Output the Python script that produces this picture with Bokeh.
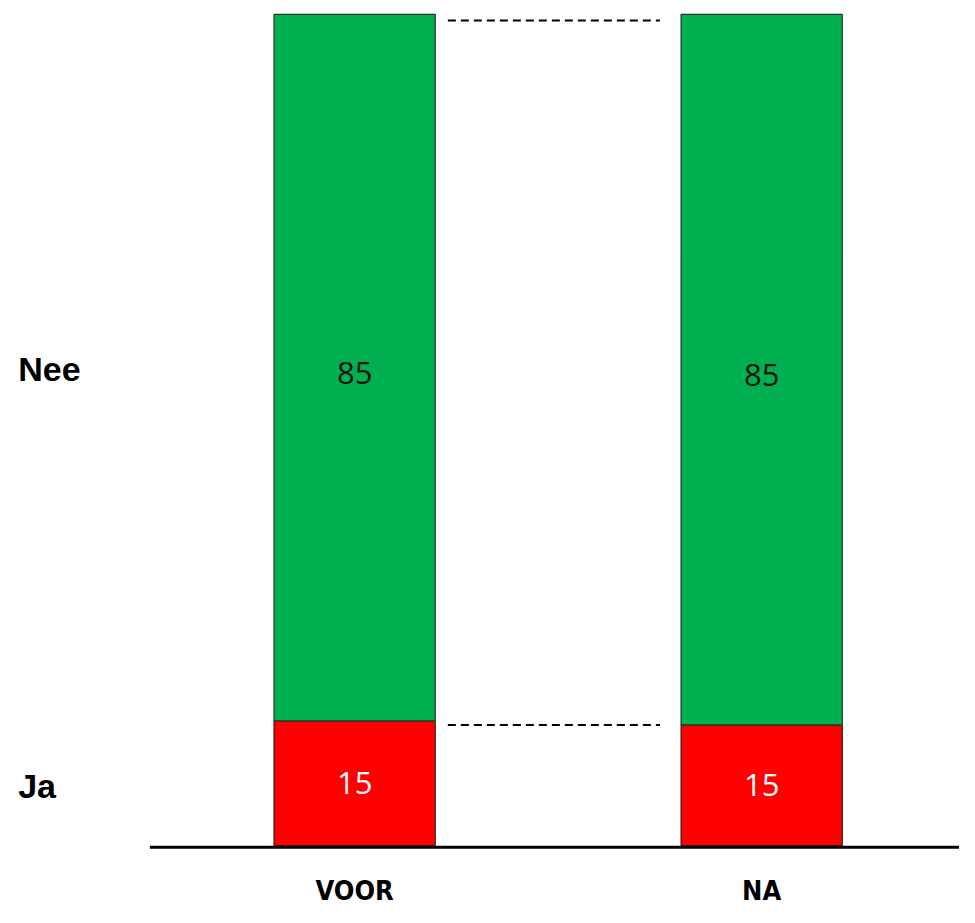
from bokeh.plotting import figure
from bokeh.models import Range1d, ColumnDataSource
from bokeh.core.properties import value
from bokeh.embed import file_html
from bokeh.resources import INLINE

# data
periods = ["VOOR", "NA"]
ja = [15.0, 14.5]
nee = [85.0, 85.5]
ja_labels = ["15", "15"]
nee_labels = ["85", "85"]
answers = ["Ja", "Nee"]

xs = list(range(len(periods)))
bar_w = 0.396

p = figure(width=959, height=907, output_backend="svg", toolbar_location=None,
           x_range=Range1d(-0.870, 1.486), y_range=Range1d(-7.46, 101.66),
           min_border=0, x_axis_type=None, y_axis_type=None)
p.outline_line_color = None
p.grid.visible = False

tot = [a + b for a, b in zip(ja, nee)]
src = ColumnDataSource(dict(
    x=xs, ja=ja, tot=tot,
    ja_mid=[a / 2 for a in ja], nee_mid=[a + b / 2 - 0.6 for a, b in zip(ja, nee)],
    ja_lab=ja_labels, nee_lab=nee_labels, per=periods,
    lab_y=[-5.45] * len(periods)))

p.vbar(x="x", width=bar_w, bottom=0, top="ja", source=src,
       fill_color="#FF0000", line_color="#3a1a1a", line_width=1.2)
p.vbar(x="x", width=bar_w, bottom="ja", top="tot", source=src,
       fill_color="#00B050", line_color="#1f3a24", line_width=1.2)

# dashed connectors
x0 = xs[0] + bar_w / 2 + 0.031
x1 = xs[1] - bar_w / 2 - 0.052
p.segment(x0=[x0, x0], x1=[x1, x1], y0=[tot[1] - 0.75, ja[1]],
          y1=[tot[1] - 0.75, ja[1]],
          line_color="black", line_width=2, line_dash="8 5")

# baseline
p.segment(x0=[-0.503], x1=[1.486], y0=[-0.2], y1=[-0.2], line_color="black", line_width=3)

p.text(x="x", y="nee_mid", text="nee_lab", source=src, text_align="center",
       text_baseline="middle", text_font=value("Open Sans"), text_font_size="31px",
       text_color="#111111")
p.text(x="x", y="ja_mid", text="ja_lab", source=src, text_align="center",
       text_baseline="middle", text_font=value("Open Sans"), text_font_size="31px",
       text_color="white")
p.text(x="x", y="lab_y", text="per", source=src, text_align="center",
       text_baseline="middle",
       text_font=value("'DejaVu Sans Condensed', 'Liberation Sans Narrow', 'DejaVu Sans'"),
       text_font_size="27px", text_font_style="bold", text_color="black")

# row labels at centre of VOOR segments
ans_y = [ja[0] / 2 - 0.4, ja[0] + nee[0] / 2 - 0.2]
p.text(x=[-0.8265] * 2, y=ans_y, text=answers, text_align="left",
       text_baseline="middle", text_font=value("Liberation Sans"),
       text_font_size="34px", text_font_style="bold", text_color="black")

open("out.html", "w").write(file_html(p, INLINE))
